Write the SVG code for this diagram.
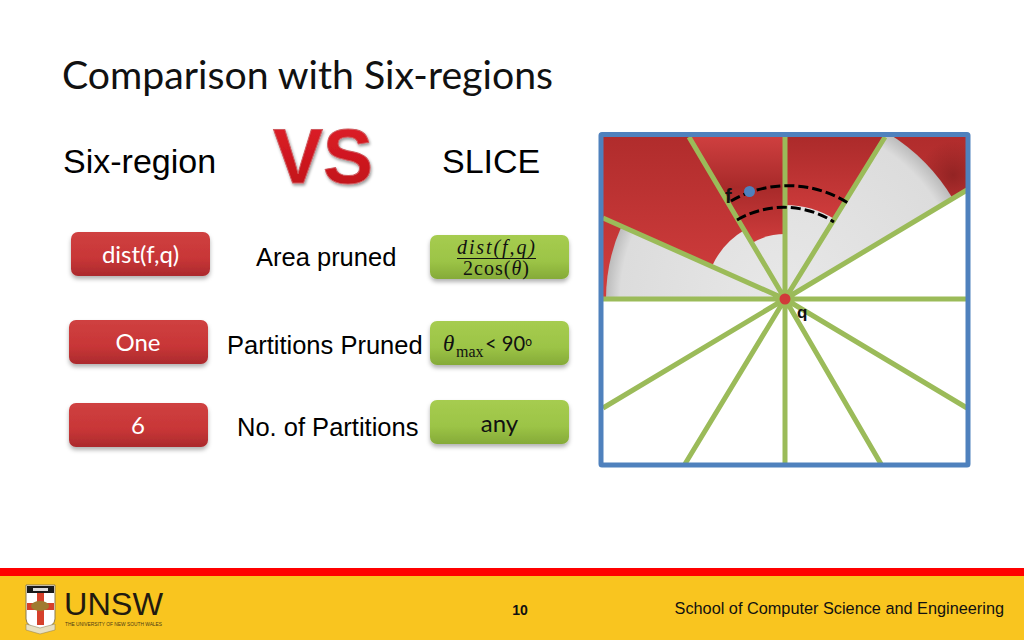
<svg xmlns="http://www.w3.org/2000/svg" width="1024" height="640" viewBox="0 0 1024 640">
<style>
.ar{font-family:"Liberation Sans",Arial,sans-serif;fill:#000}
.ca{font-family:Lato,"Open Sans",sans-serif}
.pt{font-family:Lato,"Open Sans",sans-serif;font-size:24px;fill:#fff;text-anchor:middle}
.m{font-family:"Liberation Serif",serif;font-style:italic;fill:#111}
.sp{stroke:#9bbb59;stroke-width:5;fill:none}
.da{stroke:#000;stroke-width:3;stroke-dasharray:10 4;fill:none}
</style>
<defs>
<linearGradient id="gr" x1="0" y1="0" x2="0" y2="1"><stop offset="0" stop-color="#cf4040"/><stop offset="0.6" stop-color="#c83637"/><stop offset="1" stop-color="#ab2a2d"/></linearGradient>
<linearGradient id="gg" x1="0" y1="0" x2="0" y2="1"><stop offset="0" stop-color="#a6cc50"/><stop offset="0.6" stop-color="#9cc446"/><stop offset="1" stop-color="#85aa38"/></linearGradient>
<linearGradient id="gv" x1="0" y1="0" x2="0" y2="1"><stop offset="0" stop-color="#e2222a"/><stop offset="1" stop-color="#bc0e16"/></linearGradient>
<linearGradient id="gred" x1="0" y1="0" x2="0" y2="1"><stop offset="0" stop-color="#b02c2c"/><stop offset="1" stop-color="#d23e3e"/></linearGradient>
<linearGradient id="secA" gradientUnits="userSpaceOnUse" x1="0" y1="135" x2="0" y2="240"><stop offset="0" stop-color="#d04040"/><stop offset=".5" stop-color="#a82a2a"/><stop offset="1" stop-color="#cd3b3b"/></linearGradient>
<linearGradient id="secB" gradientUnits="userSpaceOnUse" x1="0" y1="135" x2="0" y2="222"><stop offset="0" stop-color="#ab2a2a"/><stop offset="1" stop-color="#d03d3d"/></linearGradient>
<radialGradient id="ggray" gradientUnits="userSpaceOnUse" cx="785" cy="299" r="195"><stop offset="0" stop-color="#e8e8e8"/><stop offset="0.92" stop-color="#dcdcdc"/><stop offset="1" stop-color="#bcbcbc"/></radialGradient>
<radialGradient id="ggrayL" href="#ggray" gradientUnits="userSpaceOnUse" cx="785" cy="299" r="179"/>
<radialGradient id="dark"><stop offset="0" stop-color="#8f2222" stop-opacity=".9"/><stop offset="1" stop-color="#8f2222" stop-opacity="0"/></radialGradient>
<filter id="sh" x="-10%" y="-20%" width="120%" height="150%"><feDropShadow dx="0" dy="3" stdDeviation="2" flood-color="#000" flood-opacity=".3"/></filter>
<filter id="sv" x="-10%" y="-10%" width="120%" height="130%"><feDropShadow dx="1" dy="2" stdDeviation="1.500" flood-color="#000" flood-opacity=".4"/></filter>
<clipPath id="box"><rect x="601" y="134" width="367" height="166"/></clipPath>
</defs>
<rect width="1024" height="640" fill="#fff"/>
<text id="title" class="ca" x="62" y="89" font-size="38" fill="#111" textLength="491" lengthAdjust="spacingAndGlyphs">Comparison with Six-regions</text>
<text class="ar" x="63" y="173" font-size="34">Six-region</text>
<text class="ar" x="442" y="173" font-size="34">SLICE</text>
<text id="vs" x="273" y="183" font-family="Liberation Sans,Arial,sans-serif" font-weight="bold" font-size="78" fill="url(#gv)" stroke="#cf5a5e" stroke-width="1" filter="url(#sv)" textLength="100" lengthAdjust="spacingAndGlyphs">VS</text>
<text class="ar" x="256" y="266" font-size="25.500">Area pruned</text>
<text class="ar" x="227" y="354" font-size="25.500">Partitions Pruned</text>
<text class="ar" x="237" y="436" font-size="25.500">No. of Partitions</text>
<g id="node-dist"><rect x="71" y="232" width="139" height="44" rx="7" fill="url(#gr)" filter="url(#sh)"/><text class="pt" x="140.500" y="263">dist(f,q)</text></g>
<g id="node-one"><rect x="69" y="320" width="139" height="44" rx="7" fill="url(#gr)" filter="url(#sh)"/><text class="pt" x="138" y="351">One</text></g>
<g id="node-six"><rect x="69" y="403" width="139" height="44" rx="7" fill="url(#gr)" filter="url(#sh)"/><text class="pt" x="138" y="434">6</text></g>
<g id="node-formula"><rect x="430" y="235" width="139" height="44" rx="7" fill="url(#gg)" filter="url(#sh)"/>
<text class="m" x="457" y="254" font-size="20" textLength="78">dist(f,q)</text><line x1="457" y1="258.500" x2="536" y2="258.500" stroke="#111" stroke-width="1"/><text x="463" y="275" font-family="Liberation Serif,serif" font-size="20" fill="#111" textLength="66">2cos(<tspan font-style="italic">θ</tspan>)</text></g>
<g id="node-theta"><rect x="430" y="321" width="139" height="44" rx="7" fill="url(#gg)" filter="url(#sh)"/>
<text class="m" x="443" y="351" font-size="23">θ</text><text x="456" y="357" font-family="Liberation Serif,serif" font-size="16" fill="#111">max</text><text class="ca" x="485" y="351" font-size="22" fill="#111" textLength="47" lengthAdjust="spacingAndGlyphs">&lt; 90<tspan font-size="13" dy="-5">o</tspan></text></g>
<g id="node-any"><rect x="430" y="400" width="139" height="44" rx="7" fill="url(#gg)" filter="url(#sh)"/><text class="ca" x="499.500" y="432" font-size="24" fill="#111" text-anchor="middle">any</text></g>
<g id="plot">
<rect x="601" y="134" width="367" height="331" fill="#fff"/>
<g clip-path="url(#box)">
<rect x="601" y="134" width="367" height="166" fill="url(#gred)"/>
<path d="M785 299L689 134H785Z" fill="url(#secA)"/>
<path d="M785 299V134H887Z" fill="url(#secB)"/>
<circle cx="953" cy="175" r="34" fill="url(#dark)"/>
<path d="M785 299L968 190V300H785Z" fill="#fff"/>
<path d="M785 299H606A179 179 0 0 1 621.500 226.200Z" fill="url(#ggrayL)"/>
<path d="M785 299L711.900 266.500A80 80 0 0 1 744.500 230Z" fill="url(#ggray)"/>
<path d="M785 299L752 243A65 65 0 0 1 785 234Z" fill="url(#ggray)"/>
<path d="M785 299V205A94 94 0 0 1 834.400 219Z" fill="url(#ggray)"/>
<path d="M785 299L886 132A195 195 0 0 1 953 199Z" fill="url(#ggray)"/>
</g>
<g id="connectors">
<path class="sp" d="M785 299H603M785 299L603 218M785 299L689 137M785 299V137M785 299L885 137M785 299L967 190M785 299H967M785 299L603 408M785 299L685 464M785 299V464M785 299L881 464M785 299L967 408"/>
<path class="da" d="M731 201A113 113 0 0 1 848 203"/>
<path class="da" d="M737 220A93 93 0 0 1 834 222"/>
</g>
<rect x="601" y="134.500" width="367" height="330.500" fill="none" stroke="#4f81bd" stroke-width="5" rx="1"/>
<circle id="node-f" cx="749.500" cy="191.500" r="5.500" fill="#4f81bd"/>
<circle id="node-q" cx="785" cy="299" r="5.500" fill="#d13a3a"/>
<text x="725" y="203" font-family="Liberation Sans,sans-serif" font-weight="bold" font-size="20" fill="#111">f</text>
<text x="797" y="318" font-family="Liberation Sans,sans-serif" font-weight="bold" font-size="17" fill="#111">q</text>
</g>
<g id="footer">
<rect x="0" y="568" width="1024" height="8" fill="#ff0000"/>
<rect x="0" y="576" width="1024" height="64" fill="#f9c51f"/>
<g id="logo">
<path d="M26 585H55V619Q55 626 40.500 631Q26 626 26 619Z" fill="#fff" stroke="#8a7a50" stroke-width="1"/>
<rect x="27" y="586" width="27" height="7" fill="#1a1a1a"/>
<rect x="33" y="588" width="15" height="3" fill="#ddd"/>
<path d="M37 593H44V625H37ZM27 603H54V610H27Z" fill="#d5402b"/>
<ellipse cx="40" cy="606" rx="9" ry="5" fill="#a07a30"/>
<path d="M26 624L40 628L55 624V630L40 634L26 630Z" fill="#e8e0c0" stroke="#8a7a50" stroke-width=".5"/>
<text x="64" y="615" font-family="Liberation Sans,sans-serif" font-size="32" fill="#221a10" textLength="99" lengthAdjust="spacingAndGlyphs">UNSW</text>
<text x="65" y="625.500" font-family="Liberation Sans,sans-serif" font-size="4.500" fill="#4a3a15" textLength="97" lengthAdjust="spacingAndGlyphs">THE UNIVERSITY OF NEW SOUTH WALES</text>
</g>
<text x="520" y="615" font-family="Liberation Sans,sans-serif" font-weight="bold" font-size="14" fill="#111" text-anchor="middle">10</text>
<text x="1004" y="614" font-family="Liberation Sans,sans-serif" font-size="16.300" fill="#111" text-anchor="end">School of Computer Science and Engineering</text>
</g>
</svg>
